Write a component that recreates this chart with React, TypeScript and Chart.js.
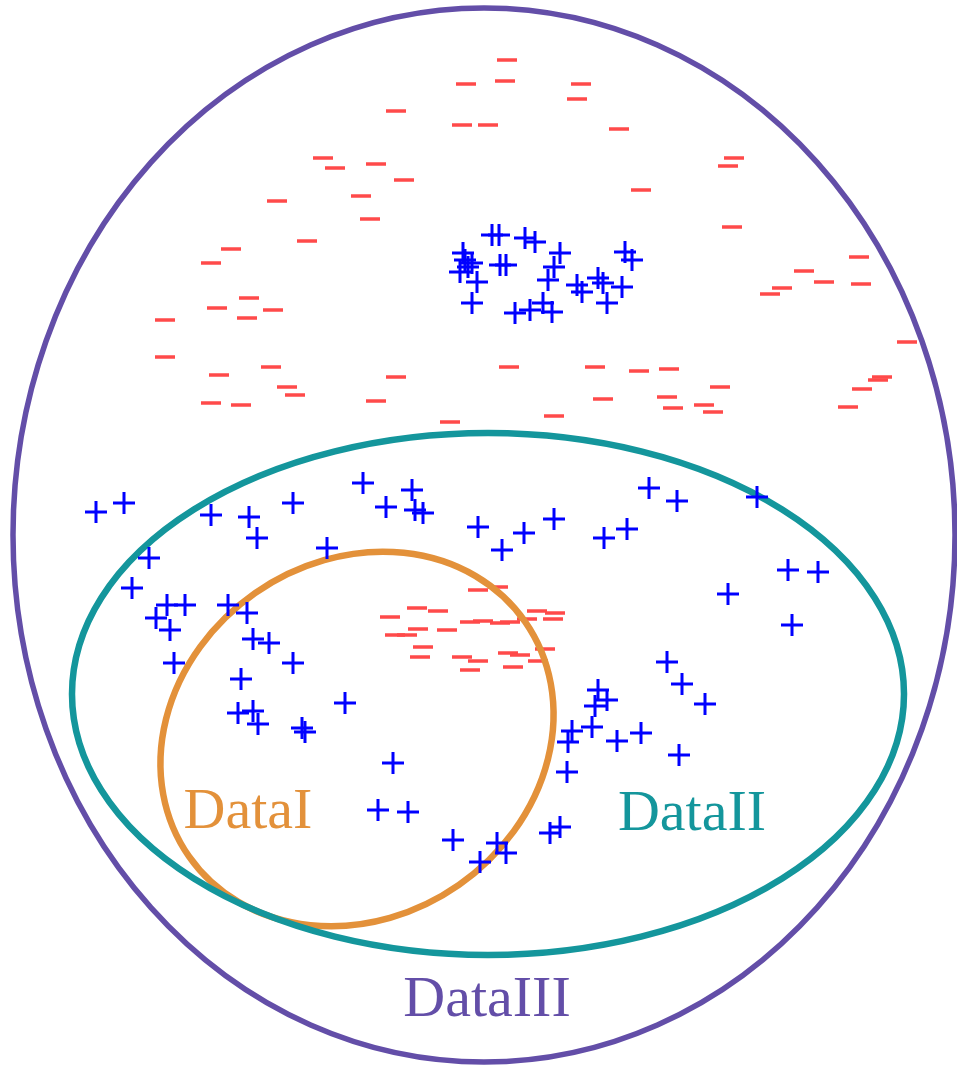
import React, { useEffect, useRef } from "react";
import { Chart, registerables } from "chart.js";

Chart.register(...registerables);

// Positive samples (blue "+")
const posPoints: [number, number][] = [
  [492, 235], [499, 235], [525, 238], [535, 242], [463, 253], [465, 260], [472, 263], [460, 272],
  [468, 267], [500, 265], [506, 265], [477, 282], [472, 303], [560, 253], [554, 267], [548, 280],
  [577, 285], [582, 292], [598, 278], [603, 283], [622, 287], [625, 252], [632, 260], [607, 303],
  [515, 313], [530, 310], [543, 303], [552, 312],
  [96, 512], [124, 503], [211, 515], [249, 517], [257, 538], [293, 503], [363, 483], [386, 507],
  [412, 490], [415, 510], [423, 513], [327, 548], [478, 527], [502, 550], [524, 533], [554, 519],
  [604, 538], [627, 529], [649, 488], [677, 501], [757, 497],
  [149, 558], [132, 588], [167, 605], [185, 605], [156, 618], [170, 630], [228, 605], [247, 613],
  [253, 639], [269, 643], [293, 663], [174, 663], [241, 679], [238, 713], [253, 711], [258, 724],
  [345, 703], [302, 728], [305, 732],
  [728, 594], [788, 570], [818, 572], [792, 625], [667, 662], [682, 684], [705, 704],
  [598, 690], [607, 700], [595, 706], [592, 727], [572, 731], [568, 742], [617, 741], [641, 733],
  [679, 755], [567, 772],
  [393, 763], [378, 810], [408, 812], [453, 840], [497, 843], [506, 853], [480, 862], [550, 833], [560, 827],
];

// Negative samples (red "−")
const negPoints: [number, number][] = [
  [507, 60], [466, 84], [505, 81], [581, 84], [577, 99], [462, 125], [488, 125], [619, 129], [641, 190],
  [396, 111], [323, 158], [335, 168], [376, 164], [404, 180], [277, 201], [361, 196], [370, 219],
  [307, 241], [231, 249], [211, 263], [249, 298], [217, 308], [273, 310], [247, 318], [165, 320],
  [165, 357], [271, 367], [219, 375], [396, 377], [287, 387], [295, 395], [211, 403], [241, 405], [376, 401],
  [734, 158], [728, 166], [732, 227], [859, 257], [804, 271], [824, 282], [861, 284], [782, 288], [770, 294],
  [907, 342], [882, 377], [878, 380], [862, 389], [720, 387], [848, 407], [704, 405], [713, 412],
  [509, 367], [595, 367], [639, 371], [669, 369], [603, 399], [667, 397], [673, 408], [554, 416], [450, 422],
  [478, 590], [498, 587], [390, 617], [417, 608], [438, 611], [537, 611], [555, 613], [553, 619],
  [470, 622], [483, 621], [500, 623], [510, 622], [527, 619], [395, 635], [407, 635], [418, 629],
  [447, 630], [423, 647], [420, 657], [462, 657], [478, 661], [470, 670], [508, 653], [520, 655],
  [545, 649], [538, 661], [513, 667],
];

// Region outlines: [cx, cy, rx, ry, rotation]
const regionNames = ["DataI", "DataII", "DataIII"];
const regionShapes: [number, number, number, number, number][] = [
  [357, 739, 205, 178, -0.61],
  [488, 694, 416, 261, 0],
  [484, 535, 471, 527, 0],
];
const regionLabelPos: [number, number][] = [
  [248, 828],
  [692, 830],
  [487, 1016],
];
const regionColors = ["#e3913a", "#14969c", "#634ea8"];
const regionWidths = [6.5, 6.5, 5.5];

const regionPlugin = {
  id: "regions",
  afterDatasetDraw(chart: any, args: any) {
    if (args.meta.label !== "neg") return;
    const ctx = chart.ctx;
    const xs = chart.scales.x;
    const ys = chart.scales.y;
    ctx.save();
    regionShapes.forEach((s, i) => {
      const cx = xs.getPixelForValue(s[0]);
      const cy = ys.getPixelForValue(s[1]);
      const rx = Math.abs(xs.getPixelForValue(s[0] + s[2]) - cx);
      const ry = Math.abs(ys.getPixelForValue(s[1] + s[3]) - cy);
      ctx.beginPath();
      ctx.ellipse(cx, cy, rx, ry, s[4], 0, Math.PI * 2);
      ctx.strokeStyle = regionColors[i];
      ctx.lineWidth = regionWidths[i];
      ctx.stroke();
    });
    ctx.restore();
  },
  afterDraw(chart: any) {
    const ctx = chart.ctx;
    const xs = chart.scales.x;
    const ys = chart.scales.y;
    ctx.save();
    ctx.font = '58px "Liberation Serif", "Times New Roman", serif';
    ctx.textAlign = "center";
    ctx.textBaseline = "alphabetic";
    regionNames.forEach((n, i) => {
      ctx.fillStyle = regionColors[i];
      ctx.fillText(n, xs.getPixelForValue(regionLabelPos[i][0]), ys.getPixelForValue(regionLabelPos[i][1]));
    });
    ctx.restore();
  },
};

export default function App() {
  const ref = useRef<HTMLCanvasElement>(null);
  useEffect(() => {
    document.body.style.margin = "0";
    const chart = new Chart(ref.current!, {
      type: "scatter",
      data: {
        datasets: [
          {
            label: "pos",
            data: posPoints.map(([x, y]) => ({ x, y })),
            pointStyle: "cross",
            pointRadius: 11,
            pointHoverRadius: 11,
            pointBorderWidth: 3,
            borderColor: "#0000ff",
            backgroundColor: "#0000ff",
            order: 1,
            clip: false,
          } as any,
          {
            label: "neg",
            data: negPoints.map(([x, y]) => ({ x, y })),
            pointStyle: "line",
            pointRadius: 10,
            pointHoverRadius: 10,
            pointBorderWidth: 3.5,
            borderColor: "#ff4a4a",
            backgroundColor: "#ff4a4a",
            order: 2,
            clip: false,
          } as any,
        ],
      },
      options: {
        responsive: false,
        maintainAspectRatio: false,
        animation: false,
        layout: { padding: 0, autoPadding: false },
        plugins: { legend: { display: false }, tooltip: { enabled: false } },
        events: [],
        scales: {
          x: { type: "linear", min: 0, max: 957, display: false },
          y: { type: "linear", min: 0, max: 1067, reverse: true, display: false },
        },
      },
      plugins: [regionPlugin],
    });
    return () => chart.destroy();
  }, []);
  return (
    <div style={{ width: 957, height: 1067, background: "#fff" }}>
      <canvas ref={ref} width={957} height={1067} style={{ display: "block" }} />
    </div>
  );
}
